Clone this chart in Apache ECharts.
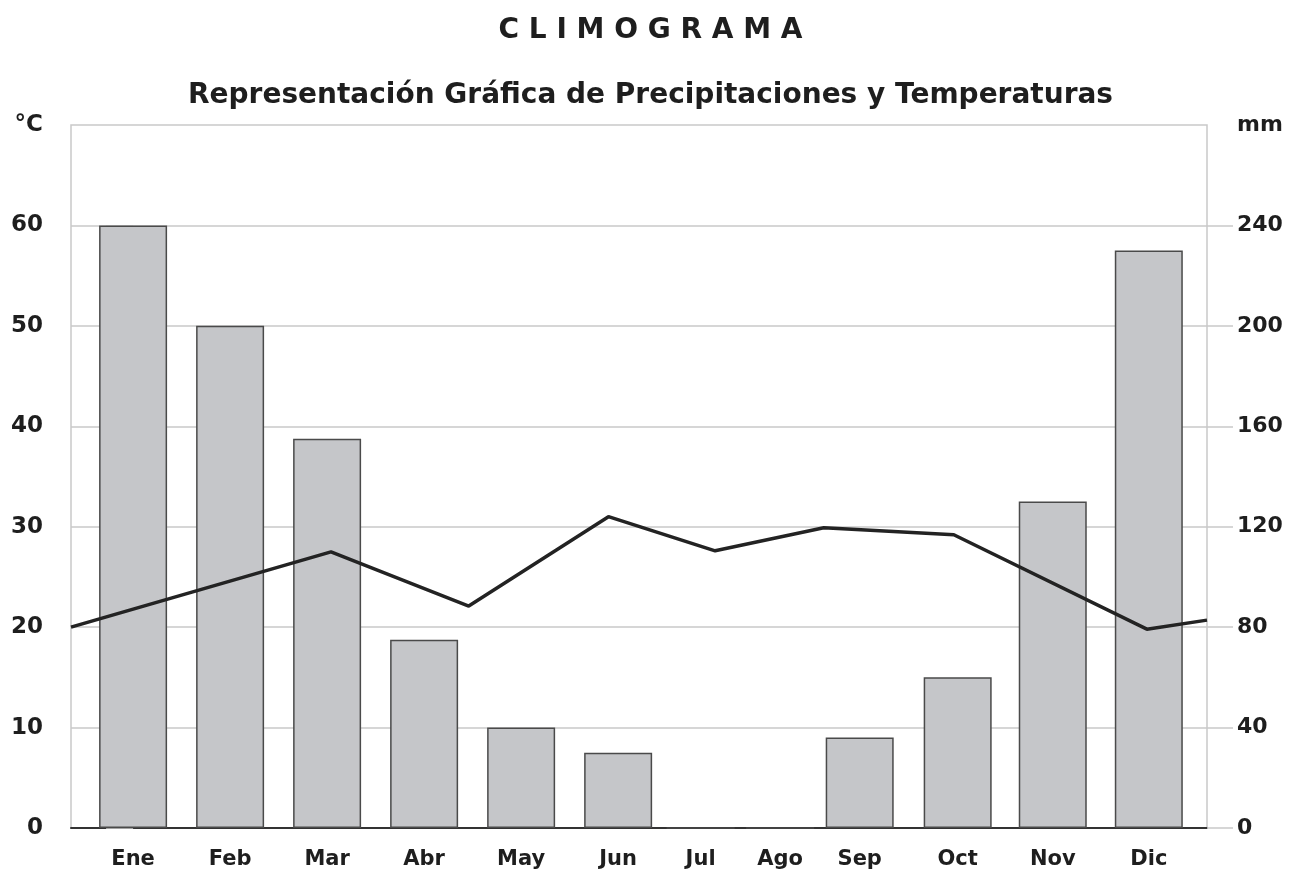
<!DOCTYPE html>
<html>
<head>
<meta charset="utf-8">
<title>Climograma</title>
<script src="https://cdn.jsdelivr.net/npm/echarts@6.0.0/dist/echarts.min.js"></script>
<style>
  html, body { margin: 0; padding: 0; background: #ffffff; }
  #chart_example { width: 1301px; height: 875px; }
</style>
</head>
<body>
<div id="chart_example"></div>
<script>
// meses y su posicion en el eje (unidad = separacion entre barras)
var months = ["Ene", "Feb", "Mar", "Abr", "May", "Jun", "Jul", "Ago", "Sep", "Oct", "Nov", "Dic"];
var monthPos = [0, 1, 2, 3, 4, 5, 5.85, 6.67, 7.49, 8.5, 9.48, 10.47];
// precipitaciones (mm)
var precip = [240, 200, 155, 75, 40, 30, 0, 0, 36, 60, 130, 230];
// temperaturas (°C), vertices de la linea
var tempPos = [-0.64, 2.04, 3.46, 4.9, 6.0, 7.12, 8.46, 10.45, 11.07];
var tempVals = [20, 27.5, 22.1, 31, 27.6, 29.9, 29.2, 19.8, 20.7];
// marcas de los ejes
var tempTicks = [0, 10, 20, 30, 40, 50, 60];
var precipTicks = [0, 40, 80, 120, 160, 200, 240];

var font = "DejaVu Sans";
var gridColor = "#c9c9c9";
var textColor = "#1e1e1e";

var myChart = echarts.init(document.getElementById("chart_example"));

var barData = monthPos.map(function(p, i) {
  return [p, precip[i]];
});
var lineData = tempPos.map(function(p, i) {
  return [p, tempVals[i]];
});

var option = {
  backgroundColor: "#ffffff",
  animation: false,
  title: [
    {
      text: "C L I M O G R A M A",
      left: "center",
      top: 12,
      textStyle: { fontFamily: font, fontWeight: "bold", fontSize: 28, color: textColor }
    },
    {
      text: "Representación Gráfica de Precipitaciones y Temperaturas",
      left: "center",
      top: 77,
      textStyle: { fontFamily: font, fontWeight: "bold", fontSize: 28, color: textColor }
    }
  ],
  grid: {
    left: 71,
    right: 94,
    top: 125,
    bottom: 47,
    show: true,
    borderColor: gridColor,
    borderWidth: 1.5
  },
  xAxis: {
    type: "value",
    min: -0.64,
    max: 11.07,
    splitLine: { show: false },
    axisTick: { show: false },
    axisLine: { lineStyle: { color: "#333333", width: 2 } },
    axisLabel: {
      customValues: monthPos,
      margin: 21,
      fontFamily: font,
      fontWeight: "bold",
      fontSize: 21,
      color: textColor,
      formatter: function(v) {
        return months[monthPos.indexOf(v)];
      }
    }
  },
  yAxis: [
    {
      // temperatura
      type: "value",
      min: 0,
      max: 70,
      interval: 10,
      axisLine: { show: false },
      axisTick: { show: true, customValues: tempTicks, length: 27, lineStyle: { color: gridColor, width: 1.5 } },
      splitLine: { lineStyle: { color: gridColor, width: 1.5 } },
      axisLabel: {
        customValues: tempTicks.concat([70]),
        margin: 28,
        fontFamily: font,
        fontWeight: "bold",
        fontSize: 23,
        color: textColor,
        formatter: function(v) {
          return v === 70 ? "°C" : v;
        }
      }
    },
    {
      // precipitacion
      type: "value",
      min: 0,
      max: 280,
      interval: 40,
      position: "right",
      axisLine: { show: false },
      axisTick: { show: true, customValues: precipTicks, length: 26, lineStyle: { color: gridColor, width: 1.5 } },
      splitLine: { show: false },
      axisLabel: {
        customValues: precipTicks.concat([280]),
        margin: 30,
        fontFamily: font,
        fontWeight: "bold",
        fontSize: 22,
        color: textColor,
        formatter: function(v) {
          return v === 280 ? "mm" : v;
        }
      }
    }
  ],
  series: [
    {
      type: "bar",
      yAxisIndex: 1,
      barWidth: 68,
      data: barData,
      itemStyle: { color: "#c5c6c9", borderColor: "#4a4a4a", borderWidth: 1.5 }
    },
    {
      type: "line",
      yAxisIndex: 0,
      data: lineData,
      showSymbol: false,
      symbol: "none",
      lineStyle: { color: "#232323", width: 3.5 },
      z: 5
    }
  ]
};
myChart.setOption(option, true);
</script>
</body>
</html>
